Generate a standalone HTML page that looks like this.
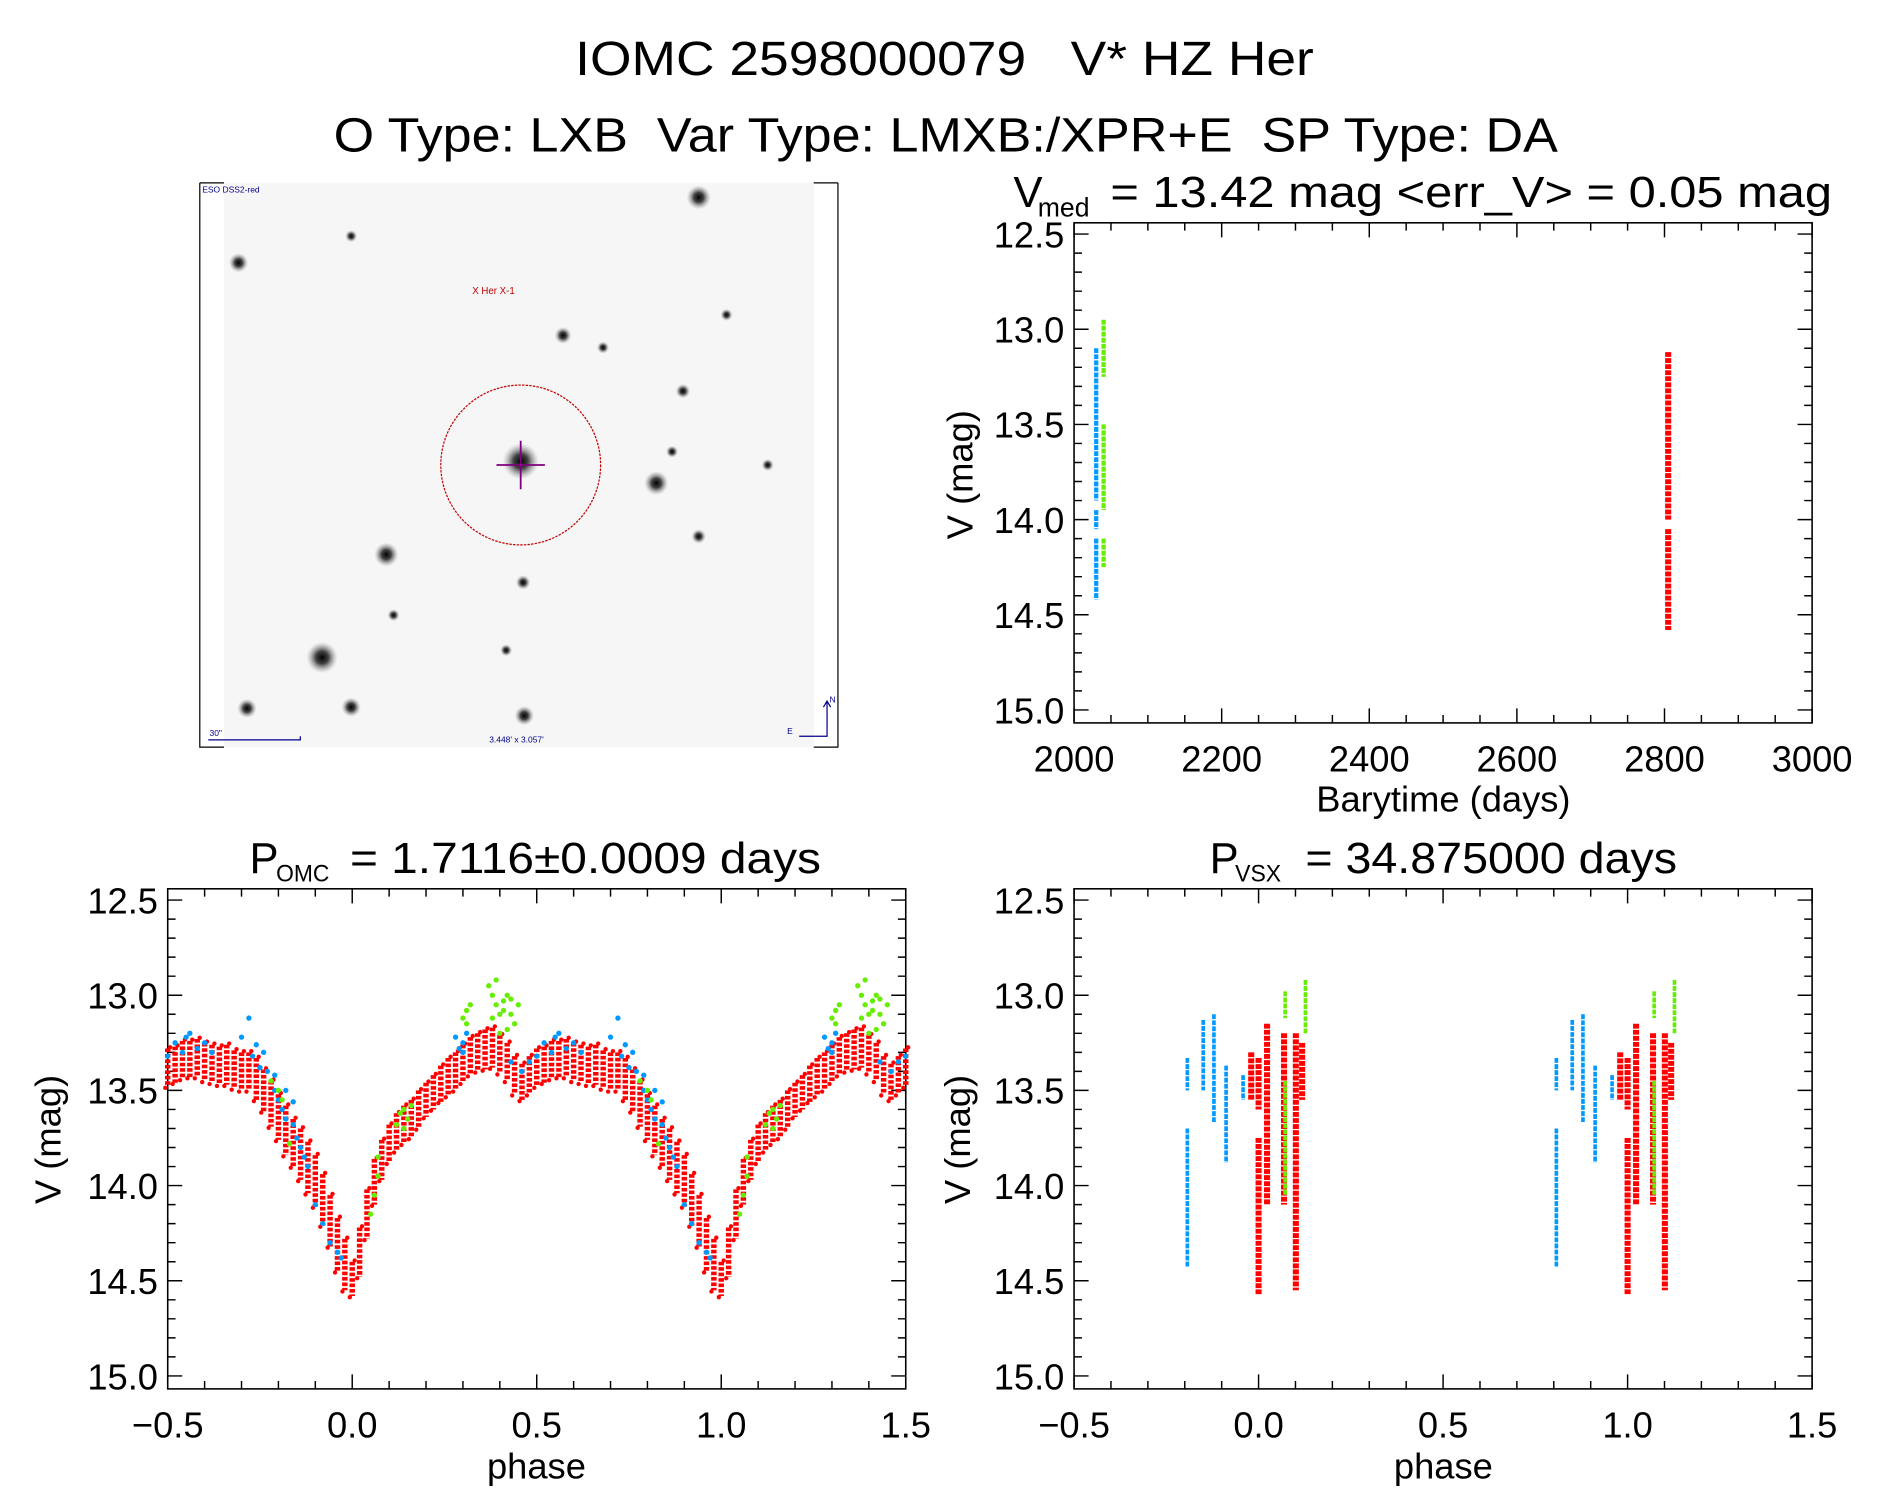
<!DOCTYPE html>
<html><head><meta charset="utf-8"><style>
html,body{margin:0;padding:0;background:#fff;}
svg{display:block;font-family:"Liberation Sans",sans-serif;}
text{white-space:pre;}
</style></head><body>
<svg id="root" xmlns="http://www.w3.org/2000/svg" xml:space="preserve" width="1889" height="1494" viewBox="0 0 1560 1233.8">
<defs>
<radialGradient id="star"><stop offset="0" stop-color="#000" stop-opacity="1"/><stop offset="0.4" stop-color="#222" stop-opacity="0.85"/><stop offset="1" stop-color="#999" stop-opacity="0"/></radialGradient>
</defs>
<text x="780" y="62" font-size="40" text-anchor="middle" textLength="610" lengthAdjust="spacingAndGlyphs">IOMC 2598000079   V* HZ Her</text>
<text x="781" y="125" font-size="40" text-anchor="middle" textLength="1011" lengthAdjust="spacingAndGlyphs">O Type: LXB  Var Type: LMXB:/XPR+E  SP Type: DA</text>

<g>
<rect x="185" y="151" width="487" height="466" fill="#f6f6f6"/>
<path d="M165 151H185M165 151V617H185M692 151H672M692 151V617H672" stroke="#000" stroke-width="1" fill="none"/>
<g id="stars"></g>
<circle cx="430" cy="384" r="66" fill="none" stroke="#c00000" stroke-width="1" stroke-dasharray="2 1"/>
<path d="M410 384H450M430 364V404" stroke="#800080" stroke-width="1.5"/>
<text x="390" y="243" font-size="8" fill="#c00000">X Her X-1</text>
<text x="167" y="159" font-size="7" fill="#00008b">ESO DSS2-red</text>
<path d="M172 611H248V608" stroke="#00008b" fill="none"/>
<text x="173" y="608" font-size="7" fill="#00008b">30"</text>
<text x="404" y="613" font-size="7" fill="#00008b">3.448' x 3.057'</text>
<path d="M683 580V608H660M680 584L683 579L686 584" stroke="#00008b" fill="none"/>
<text x="685" y="580" font-size="7" fill="#00008b">N</text>
<text x="650" y="606" font-size="7" fill="#00008b">E</text>
</g>
<g id="plots"></g>
</svg>
<script>
// ---------- data ----------
const starX = [577,197,290,465,498,564,600,430,542,319,577,432,266,204,290,433,325,555,634,418];
const starY = [163,217,195,277,287,323,260,381,399,458,443,481,543,585,584,591,508,373,384,537];
const starR = [10,8,5,7,5,6,5,15,10,10,6,6,13,8,8,8,5,5,5,5];

// top-right light curve (barytime, mag ranges)
const lcTime  = [2030,2030,2030,2040,2040,2040,2805,2805];
const lcTop   = [13.10,13.95,14.10,12.95,13.50,14.10,13.12,14.05];
const lcBot   = [13.90,14.05,14.42,13.25,13.95,14.25,14.00,14.58];
const lcColor = ["blue","blue","blue","green","green","green","red","red"];

// OMC-phased red band
const redPhase = [0,.02,.04,.06,.08,.10,.12,.14,.16,.18,.20,.22,.24,.26,.28,.30,.32,.34,.36,.38,.40,.42,.44,.46,.48,.50,.52,.54,.56,.58,.60,.62,.64,.66,.68,.70,.72,.74,.76,.78,.80,.82,.84,.86,.88,.90,.92,.94,.96,.98];
const redBright = [14.40,14.22,14.02,13.86,13.76,13.68,13.62,13.58,13.55,13.50,13.46,13.42,13.37,13.33,13.30,13.26,13.22,13.20,13.18,13.17,13.21,13.25,13.32,13.36,13.32,13.28,13.27,13.24,13.24,13.23,13.25,13.26,13.27,13.26,13.29,13.30,13.30,13.33,13.39,13.45,13.52,13.58,13.65,13.70,13.77,13.84,13.94,14.05,14.17,14.28];
const redFaint = [14.58,14.48,14.28,14.10,13.97,13.88,13.82,13.78,13.75,13.70,13.64,13.60,13.56,13.53,13.50,13.46,13.42,13.40,13.39,13.38,13.41,13.45,13.52,13.55,13.52,13.48,13.46,13.44,13.43,13.43,13.45,13.46,13.47,13.47,13.49,13.50,13.50,13.55,13.61,13.69,13.76,13.84,13.90,13.97,14.04,14.11,14.21,14.32,14.45,14.55];
const bluePhase = [0.28,0.29,0.30,0.31,0.30,0.55,0.56,0.58,0.72,0.60,0.52,0.54,0.77,0.79,0.80,0.81,0.82,0.84,0.85,0.86,0.87,0.88,0.90,0.92,0.94,0.96,0.97,0.82,0.84,0.79,0.74,0.76,0.43,0.46,0.50,0.48,0.62,0.70,0.73,0.75];
const blueMag   = [13.22,13.28,13.25,13.20,13.30,13.22,13.20,13.28,13.12,13.25,13.25,13.30,13.40,13.50,13.55,13.60,13.65,13.68,13.75,13.80,13.85,13.90,14.10,14.20,14.30,14.35,14.38,13.50,13.56,13.42,13.26,13.30,13.35,13.40,13.32,13.35,13.30,13.22,13.32,13.38];
const greenPhase = [0.30,0.31,0.32,0.31,0.37,0.38,0.39,0.40,0.41,0.42,0.43,0.44,0.38,0.40,0.42,0.45,0.13,0.14,0.15,0.12,0.16,0.14,0.07,0.07,0.06,0.05,0.80,0.81,0.83,0.78,0.39,0.41,0.43];
const greenMag   = [13.12,13.08,13.05,13.15,12.95,13.00,13.05,13.10,13.03,13.00,13.10,13.15,13.12,13.20,13.18,13.05,13.62,13.60,13.65,13.68,13.58,13.70,13.85,13.95,14.05,14.15,13.50,13.55,13.78,13.45,12.92,13.08,13.02];

// VSX-phased columns
const vsxPhase = [-0.193,-0.193,-0.150,-0.121,-0.088,-0.042,-0.020,0.000,0.000,0.023,0.069,0.101,0.118,0.072,0.072,0.127];
const vsxTop   = [13.33,13.70,13.13,13.10,13.37,13.42,13.30,13.33,13.75,13.15,13.20,13.20,13.25,12.98,13.45,12.92];
const vsxBot   = [13.50,14.43,13.50,13.67,13.88,13.55,13.55,13.60,14.57,14.10,14.10,14.55,13.55,13.12,14.05,13.20];
const vsxColor = ["blue","blue","blue","blue","blue","blue","red","red","red","red","red","red","red","green","green","green"];

const trXTicks = ["2000","2200","2400","2600","2800","3000"];
const phXTicks = ["\u22120.5","0.0","0.5","1.0","1.5"];
const yTicks = ["12.5","13.0","13.5","14.0","14.5","15.0"];

const COL = {red:"#ff0000", blue:"#0099ff", green:"#66ee00"};
const NS = "http://www.w3.org/2000/svg";
function mk(tag, attrs, parent){ const e=document.createElementNS(NS,tag); for(const k in attrs) e.setAttribute(k,attrs[k]); parent.appendChild(e); return e; }

const sg = document.getElementById('stars');
for(let i=0;i<starX.length;i++){
  const c = mk('circle',{cx:starX[i],cy:starY[i],r:starR[i],fill:'url(#star)'},sg);
  
  
}

const root = document.getElementById('plots');
function panel(name, x0, x1, top, bot, xmin, xmax, y125, y150, xMajor, xMinor, xLabels, xLabelVals){
  const g = mk('g',{},root);
  
  
  const sx = v => x0 + (v-xmin)/(xmax-xmin)*(x1-x0);
  const sy = m => y125 + (m-12.5)/2.5*(y150-y125);
  mk('rect',{x:x0,y:top,width:x1-x0,height:bot-top,fill:'none',stroke:'#000','stroke-width':1.3},g);
  let d='';
  for(let v=xmin; v<=xmax+1e-9; v+=xMinor){
    const X=sx(v); const isMaj = Math.abs(Math.round((v-xmin)/xMajor)*xMajor-(v-xmin))<1e-6;
    const L = isMaj?12:6.5;
    d+=`M${X} ${bot}V${bot-L}M${X} ${top}V${top+L}`;
  }
  for(let i=0;i<=25;i++){
    const m=12.5+i*0.1; const Y=sy(m); const L=(i%5===0)?12:6.5;
    d+=`M${x0} ${Y}H${x0+L}M${x1} ${Y}H${x1-L}`;
  }
  mk('path',{d:d,stroke:'#000','stroke-width':1.2,fill:'none'},g);
  for(let i=0;i<yTicks.length;i++){
    const t=mk('text',{x:x0-8,y:sy(12.5+0.5*i)+11,'font-size':30,'text-anchor':'end'},g);
    
    
    t.textContent=yTicks[i];
  }
  for(let i=0;i<xLabels.length;i++){
    const t=mk('text',{x:sx(xLabelVals[i]),y:bot+40,'font-size':30,'text-anchor':'middle'},g);
    
    
    t.textContent=xLabels[i];
  }
  return {g,sx,sy};
}
function dot(g,x,y,c,r){ const e=mk('circle',{cx:x,cy:y,r:r||2,fill:COL[c]},g);
  
   return e; }
function seg(g,x,y1,y2,c,w){ const e=mk('line',{x1:x,x2:x,y1:y1,y2:y2,stroke:COL[c],'stroke-width':w,'stroke-dasharray':'4 1'},g);
  
   return e; }

const tr = panel('lightcurve-panel',887,1496.5,184,597,2000,3000,193.3,586.3,200,50,trXTicks,[2000,2200,2400,2600,2800,3000]);
for(let i=0;i<lcTime.length;i++) seg(tr.g,tr.sx(lcTime[i]),tr.sy(lcTop[i]),tr.sy(lcBot[i]),lcColor[i],lcColor[i]==='red'?5:3.5);

const bl = panel('omc-phase-panel',138.5,748,734,1147,-0.5,1.5,743.3,1136.3,0.5,0.1,phXTicks,[-0.5,0,0.5,1,1.5]);
const inR = v => v>=-0.5 && v<=1.5;
for(const off of [-1,0,1]){
  for(let i=0;i<redPhase.length;i++){
    const p=redPhase[i]+off; if(!inR(p)) continue;
    const X=bl.sx(p);
    const l=mk('line',{x1:X,x2:X,y1:bl.sy(redBright[i]),y2:bl.sy(redFaint[i]),stroke:COL.red,'stroke-width':4.5,'stroke-dasharray':'3 1.5'},bl.g);
    
    
    dot(bl.g,X+2,bl.sy(redBright[i])-1,'red',1.8);
    dot(bl.g,X-2,bl.sy(redFaint[i])+1,'red',1.8);
  }
  for(let i=0;i<bluePhase.length;i++){ const p=bluePhase[i]+off; if(inR(p)) dot(bl.g,bl.sx(p),bl.sy(blueMag[i]),'blue',2.2); }
  for(let i=0;i<greenPhase.length;i++){ const p=greenPhase[i]+off; if(inR(p)) dot(bl.g,bl.sx(p),bl.sy(greenMag[i]),'green',2.2); }
}

const br = panel('vsx-phase-panel',887,1496.5,734,1147,-0.5,1.5,743.3,1136.3,0.5,0.1,phXTicks,[-0.5,0,0.5,1,1.5]);
for(const off of [0,1]){
  for(let i=0;i<vsxPhase.length;i++){
    seg(br.g,br.sx(vsxPhase[i]+off),br.sy(vsxTop[i]),br.sy(vsxBot[i]),vsxColor[i],vsxColor[i]==='red'?5:3);
  }
}

function txt(s,attrs,name){ const t=mk('text',attrs,root);   t.textContent=s; return t; }
txt('V',{x:837,y:171,'font-size':36},'vmed-title');
txt('med',{x:857,y:179,'font-size':22},'vmed-subscript');
txt('= 13.42 mag <err_V> = 0.05 mag',{x:917,y:171,'font-size':36,textLength:596,lengthAdjust:'spacingAndGlyphs'},'vmed-value');
txt('P',{x:206,y:721,'font-size':36},'pomc-title');
txt('OMC',{x:228,y:728,'font-size':20,textLength:44,lengthAdjust:'spacingAndGlyphs'},'pomc-subscript');
txt('= 1.7116\u00b10.0009 days',{x:289,y:721,'font-size':36,textLength:389,lengthAdjust:'spacingAndGlyphs'},'pomc-value');
txt('P',{x:999,y:721,'font-size':36},'pvsx-title');
txt('VSX',{x:1020,y:728,'font-size':20,textLength:38,lengthAdjust:'spacingAndGlyphs'},'pvsx-subscript');
txt('= 34.875000 days',{x:1078,y:721,'font-size':36,textLength:307,lengthAdjust:'spacingAndGlyphs'},'pvsx-value');
txt('Barytime (days)',{x:1192,y:670,'font-size':30,'text-anchor':'middle'},'x-axis-title');
txt('phase',{x:443,y:1221,'font-size':30,'text-anchor':'middle'},'x-axis-title');
txt('phase',{x:1192,y:1221,'font-size':30,'text-anchor':'middle'},'x-axis-title');
txt('V (mag)',{x:0,y:0,'font-size':30,'text-anchor':'middle',transform:'translate(803,392) rotate(-90)'},'y-axis-title');
txt('V (mag)',{x:0,y:0,'font-size':30,'text-anchor':'middle',transform:'translate(50,941) rotate(-90)'},'y-axis-title');
txt('V (mag)',{x:0,y:0,'font-size':30,'text-anchor':'middle',transform:'translate(801,941) rotate(-90)'},'y-axis-title');
</script>
</body></html>
